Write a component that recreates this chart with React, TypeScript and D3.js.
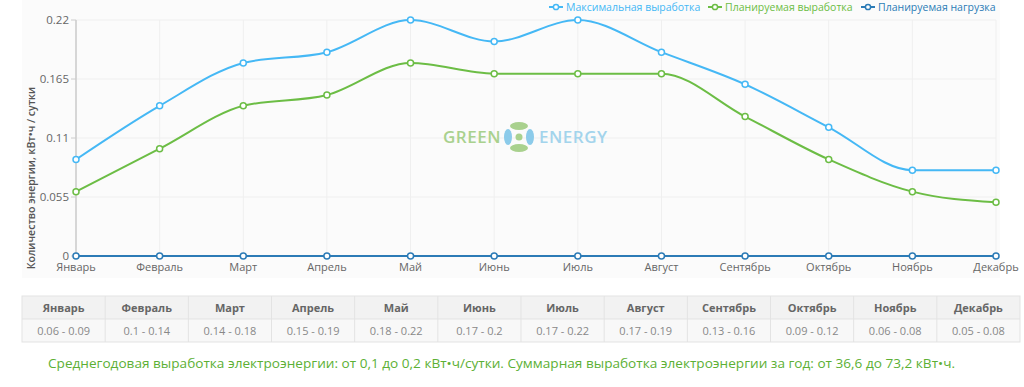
import React from "react";
import * as d3 from "d3";

const months = ["Январь","Февраль","Март","Апрель","Май","Июнь","Июль","Август","Сентябрь","Октябрь","Ноябрь","Декабрь"];
const maxOutput = [0.09,0.14,0.18,0.19,0.22,0.2,0.22,0.19,0.16,0.12,0.08,0.08];
const plannedOutput = [0.06,0.1,0.14,0.15,0.18,0.17,0.17,0.17,0.13,0.09,0.06,0.05];
const plannedLoad = [0,0,0,0,0,0,0,0,0,0,0,0];
const yTicks = [0, 0.055, 0.11, 0.165, 0.22];
const rangeLabels = ["0.06 - 0.09","0.1 - 0.14","0.14 - 0.18","0.15 - 0.19","0.18 - 0.22","0.17 - 0.2","0.17 - 0.22","0.17 - 0.19","0.13 - 0.16","0.09 - 0.12","0.06 - 0.08","0.05 - 0.08"];
const seriesNames = ["Максимальная выработка","Планируемая выработка","Планируемая нагрузка"];
const seriesColors = ["#45b8f5","#6cbd45","#2c7bb6"];
const summary = "Среднегодовая выработка электроэнергии: от 0,1 до 0,2 кВт•ч/сутки. Суммарная выработка электроэнергии за год: от 36,6 до 73,2 кВт•ч.";

const FONT = "'Open Sans', 'Noto Sans', sans-serif";

export default function App() {
  const W = 1024, H = 387;
  const x = d3.scalePoint<string>().domain(months).range([76, 996]);
  const y = d3.scaleLinear().domain([0, 0.22]).range([256, 20]);
  const line = d3.line<number>().x((_, i) => x(months[i]) as number).y(d => y(d)).curve(d3.curveMonotoneX);
  const series = [maxOutput, plannedOutput, plannedLoad];

  const tableLeft = 22, tableRight = 1020, tTop = 296, tMid = 319, tBot = 342;
  const colX = d3.scaleBand<string>().domain(months).range([tableLeft, tableRight]);

  const legendX = [553, 712, 865];

  return (
    <svg width={W} height={H} style={{ position: "absolute", left: 0, top: 0, fontFamily: FONT }}>
      <rect x={0} y={0} width={W} height={H} fill="#ffffff" />
      <rect x={22} y={0} width={978} height={278} fill="#fbfbfb" />
      {/* grid */}
      {months.map(m => (
        <line key={m} x1={x(m)} x2={x(m)} y1={20} y2={256} stroke="#efefef" strokeWidth={1} />
      ))}
      {yTicks.map(t => (
        <line key={t} x1={76} x2={996} y1={y(t)} y2={y(t)} stroke="#efefef" strokeWidth={1} />
      ))}
      <line x1={76} x2={76} y1={20} y2={256} stroke="#d6d6d6" strokeWidth={2} />
      {yTicks.map(t => (
        <g key={"t" + t}>
          <line x1={71} x2={76} y1={y(t)} y2={y(t)} stroke="#cccccc" />
          <text x={69} y={y(t)} dy="0.35em" textAnchor="end" fontSize={11.5} fill="#666">{t === 0 ? "0" : String(t)}</text>
        </g>
      ))}
      {months.map(m => (
        <text key={"l" + m} x={x(m)} y={271} textAnchor="middle" fontSize={11} fill="#666">{m}</text>
      ))}
      <text transform="translate(35,178) rotate(-90)" textAnchor="middle" fontSize={10.5} fontWeight={600} fill="#555">Количество энергии, кВт•ч / сутки</text>

      {/* logo */}
      <g>
        <text x={501} y={143} textAnchor="end" fontSize={17} fontWeight={600} fill="#a9d18e" letterSpacing={0.5}>GREEN</text>
        <text x={539} y={143} textAnchor="start" fontSize={17} fontWeight={600} fill="#a3d4ec" letterSpacing={0.5}>ENERGY</text>
        <ellipse cx={519} cy={126} rx={9} ry={4} fill="#a9d18e" />
        <ellipse cx={519} cy={148} rx={9} ry={4} fill="#a9d18e" />
        <ellipse cx={508} cy={137} rx={4} ry={8} fill="#8ccbea" />
        <ellipse cx={530} cy={137} rx={4} ry={8} fill="#8ccbea" />
        <circle cx={519} cy={137} r={3.5} fill="#a9d18e" />
      </g>

      {/* lines */}
      {series.map((s, si) => (
        <g key={"s" + si}>
          <path d={line(s) || ""} fill="none" stroke={seriesColors[si]} strokeWidth={2} />
          {s.map((v, i) => (
            <circle key={i} cx={x(months[i])} cy={y(v)} r={3} fill="#fff" stroke={seriesColors[si]} strokeWidth={1.5} />
          ))}
        </g>
      ))}

      {/* legend */}
      {seriesNames.map((n, i) => (
        <g key={n}>
          <line x1={legendX[i] - 4} x2={legendX[i] + 10} y1={7} y2={7} stroke={seriesColors[i]} strokeWidth={2} />
          <circle cx={legendX[i] + 3} cy={7} r={2.6} fill="#fff" stroke={seriesColors[i]} strokeWidth={1.5} />
          <text x={legendX[i] + 13} y={7} dy="0.35em" fontSize={10.5} fill={seriesColors[i]}>{n}</text>
        </g>
      ))}

      {/* table */}
      <rect x={tableLeft} y={tTop} width={tableRight - tableLeft} height={tMid - tTop} fill="#f2f2f2" />
      <rect x={tableLeft} y={tMid} width={tableRight - tableLeft} height={tBot - tMid} fill="#f8f8f8" />
      <rect x={tableLeft} y={tTop} width={tableRight - tableLeft} height={tBot - tTop} fill="none" stroke="#e3e3e3" />
      <line x1={tableLeft} x2={tableRight} y1={tMid} y2={tMid} stroke="#e3e3e3" />
      {months.map((m, i) => (
        <g key={"c" + m}>
          {i > 0 && <line x1={colX(m)} x2={colX(m)} y1={tTop} y2={tBot} stroke="#e3e3e3" />}
          <text x={(colX(m) as number) + colX.bandwidth() / 2} y={308} dy="0.35em" textAnchor="middle" fontSize={11} fontWeight={700} fill="#666">{m}</text>
          <text x={(colX(m) as number) + colX.bandwidth() / 2} y={331} dy="0.35em" textAnchor="middle" fontSize={11} fill="#888">{rangeLabels[i]}</text>
        </g>
      ))}

      <text x={48} y={368} fontSize={13.5} fill="#5cb034" textLength={907} lengthAdjust="spacingAndGlyphs">{summary}</text>
    </svg>
  );
}
